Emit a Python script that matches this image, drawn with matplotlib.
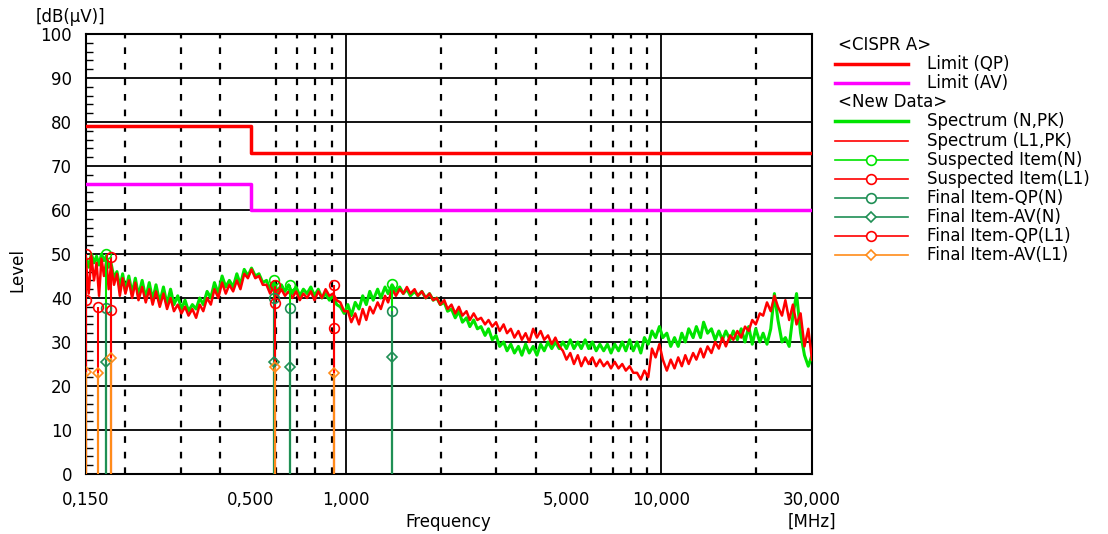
import matplotlib
matplotlib.use("Agg")
import matplotlib.pyplot as plt
from matplotlib.ticker import MultipleLocator, NullLocator

# frequency points of the scan [MHz]
freq = [
    0.150, 0.153, 0.156, 0.159, 0.162, 0.165, 0.168, 0.171, 0.174, 0.177,
    0.180, 0.184, 0.188, 0.192, 0.196, 0.200, 0.205, 0.210, 0.215, 0.220,
    0.226, 0.232, 0.238, 0.244, 0.250, 0.257, 0.264, 0.271, 0.278, 0.285,
    0.293, 0.301, 0.309, 0.317, 0.326, 0.335, 0.344, 0.353, 0.363, 0.373,
    0.383, 0.394, 0.405, 0.416, 0.427, 0.439, 0.451, 0.463, 0.476, 0.489,
    0.502, 0.516, 0.530, 0.545, 0.560, 0.575, 0.591, 0.607, 0.624, 0.641,
    0.658, 0.676, 0.695, 0.714, 0.733, 0.753, 0.774, 0.795, 0.817, 0.839,
    0.862, 0.886, 0.910, 0.935, 0.960, 0.987, 1.014, 1.04, 1.07, 1.10,
    1.13, 1.16, 1.19, 1.22, 1.26, 1.29, 1.33, 1.36, 1.40, 1.44,
    1.48, 1.52, 1.56, 1.60, 1.65, 1.69, 1.74, 1.79, 1.84, 1.89,
    1.94, 1.99, 2.05, 2.10, 2.16, 2.22, 2.28, 2.34, 2.41, 2.47,
    2.54, 2.61, 2.68, 2.76, 2.83, 2.91, 2.99, 3.07, 3.16, 3.24,
    3.33, 3.42, 3.52, 3.61, 3.71, 3.81, 3.92, 4.03, 4.14, 4.25,
    4.37, 4.49, 4.61, 4.74, 4.87, 5.00, 5.14, 5.28, 5.43, 5.57,
    5.73, 5.88, 6.04, 6.21, 6.38, 6.56, 6.74, 6.92, 7.11, 7.31,
    7.51, 7.71, 7.93, 8.14, 8.37, 8.60, 8.83, 9.08, 9.33, 9.58,
    9.85, 10.1, 10.4, 10.7, 11.0, 11.3, 11.6, 11.9, 12.2, 12.6,
    12.9, 13.3, 13.6, 14.0, 14.4, 14.8, 15.2, 15.6, 16.0, 16.5,
    16.9, 17.4, 17.9, 18.4, 18.9, 19.4, 19.9, 20.5, 21.0, 21.6,
    22.2, 22.8, 23.4, 24.1, 24.7, 25.4, 26.1, 26.8, 27.6, 28.4,
    29.2, 30.0,
]

# Spectrum (N, PK) [dBuV]
spec_n = [
    49, 47, 50, 48, 49.5, 47.5, 50, 48.5, 49.5, 47,
    48, 44.5, 46, 42.5, 45.5, 41.5, 45, 41, 44.5, 40.5,
    44, 40, 43.5, 39.5, 43, 39, 42.5, 38.5, 42, 38.5,
    40.5, 37.5, 39.5, 37, 38.5, 37.5, 40, 38.5, 41.5, 40,
    43.5, 41, 45, 42.5, 44, 42.5, 45.5, 43, 46.5, 45,
    46.8, 45, 45.5, 43.5, 44, 42, 43.5, 41.5, 43, 41.5,
    43, 41, 42.5, 40.5, 42, 41, 42.5, 40.5, 42, 40,
    41, 39.5, 40.5, 38.5, 38, 36.5, 38.5, 36, 39, 37.5,
    40.5, 38.5, 41.5, 39.5, 42, 40, 42.5, 41, 43, 41.5,
    42.5, 41, 42, 40.5, 41.5, 40.5, 41.5, 40, 41, 39.5,
    40, 38.5, 39, 37, 37.5, 35.5, 37, 34.5, 35.5, 33.5,
    35, 33, 33.5, 31.5, 33, 30.5, 31.5, 29, 30, 28,
    29.5, 27.5, 29, 27, 29.5, 27.5, 29, 27, 29.5, 28,
    30, 28.5, 30, 28.5, 30, 28.5, 30.5, 28.5, 30, 28.5,
    30.5, 28.5, 30, 28, 29.5, 28, 29.5, 27.5, 29.5, 28,
    30, 28, 30.5, 28, 30, 27.5, 31, 29.5, 32.5, 31,
    33.5, 31, 32, 29, 31, 29, 32, 30, 33, 31,
    33.5, 31, 34.5, 32, 33, 30.5, 32.5, 30.5, 32.5, 30.5,
    32.5, 30.5, 33, 30, 33.5, 29.5, 33, 30, 32, 29.5,
    33, 41, 35, 30, 31, 29, 36, 41, 32, 27,
    24.5, 27,
]

# Spectrum (L1, PK) [dBuV]
spec_l1 = [
    48, 41, 49.5, 44, 48, 40.5, 49, 45, 48.5, 42,
    47.5, 43, 45.5, 40.5, 44.5, 41, 44, 40, 43.5, 39.5,
    42.5, 39, 42, 38.5, 41.5, 38, 41, 37.5, 40, 37,
    38.5, 36.5, 38, 36, 37.5, 35.5, 38.5, 37, 40, 38.5,
    42, 40, 43.5, 41, 43, 41.5, 44, 42, 45.5, 44.5,
    46.5, 44.5, 45, 43, 43, 41, 42.5, 40.5, 42, 40.5,
    41.5, 40, 41.5, 39.5, 41, 40, 41.5, 39.5, 41.5, 40,
    42, 40.5, 41, 39.5, 39, 37, 37, 34.5, 36.5, 34,
    37.5, 35, 38, 36.5, 39, 37.5, 40.5, 39, 42, 40.5,
    42, 41, 42.5, 41, 42, 40.5, 41.5, 40, 41, 39.5,
    40, 38.5, 39.5, 37.5, 38.5, 36.5, 38, 36, 37, 35,
    36.5, 35, 35.5, 34, 35, 33.5, 34.5, 32.5, 34, 32,
    33, 31, 32.5, 30.5, 32, 30, 33, 31, 32.5, 30.5,
    31.5, 29.5, 31, 29, 28, 26, 27.5, 25, 27, 24.5,
    26.5, 25, 26.5, 24.5, 26, 24.5, 25.5, 24, 25.5, 24,
    25, 23.5, 24.5, 23, 23, 21.5, 23.5, 22, 28.5, 26.5,
    29.5, 26, 23.5, 26, 24, 26.5, 24.5, 27, 25, 27.5,
    26, 28.5, 26.5, 29, 27.5, 30, 28.5, 31, 29, 31.5,
    30.5, 32.5, 31, 33.5, 32.5, 35, 34, 36.5, 36, 39,
    37, 40.5, 38, 36, 39.5, 35, 38.5, 34, 36.5, 29,
    33, 26,
]

# CISPR A limits
limit_f = [0.15, 0.5, 0.5, 30]
limit_qp = [79, 79, 73, 73]
limit_av = [66, 66, 60, 60]

# suspected items
susp_n_f = [0.173, 0.590, 0.667, 1.40]
susp_n = [50.0, 44.0, 43.0, 43.2]
susp_l1_f = [0.150, 0.180, 0.596, 0.917]
susp_l1 = [50.0, 49.3, 43.0, 43.0]

# final measurements
final_n_f = [0.173, 0.590, 0.667, 1.40]
final_qp_n = [37.7, 40.0, 37.8, 37.1]
final_av_n = [25.5, 25.5, 24.4, 26.7]
final_l1_f = [0.150, 0.164, 0.180, 0.596, 0.917]
final_qp_l1 = [39.5, 37.9, 37.3, 38.8, 33.1]
final_av_l1 = [23.2, 23.0, 26.4, 24.4, 23.0]

tick_f = [0.15, 0.5, 1, 5, 10, 30]
tick_labels = ["0,150", "0,500", "1,000", "5,000", "10,000", "30,000"]
dash_f = [0.2, 0.3, 0.4, 0.6, 0.7, 0.8, 0.9, 2, 3, 4, 6, 7, 8, 9, 20]
solid_f = [1, 10]

GREEN = "#00e400"
RED = "#ff0000"
MAGENTA = "#ff00ff"
DKGREEN = "#1f8f55"
ORANGE = "#ff8c1a"

plt.rcParams["font.family"] = ["DejaVu Sans"]
W, H = 1108, 534
fig = plt.figure(figsize=(W / 100, H / 100), dpi=100)
ax = fig.add_axes([86 / W, 1 - 474 / H, 726 / W, 440 / H])

ax.set_xscale("log")
ax.set_xlim(0.15, 30)
ax.set_ylim(0, 100)

# grid
for y in range(10, 100, 10):
    ax.axhline(y, color="black", lw=1.3, zorder=1)
for f in dash_f:
    ax.axvline(f, color="black", lw=1.6, ls=(0, (3, 4)), zorder=1)
for f in solid_f:
    ax.axvline(f, color="black", lw=1.3, zorder=1)

# limits
ax.plot(limit_f, limit_qp, color=RED, lw=2.5, zorder=3)
ax.plot(limit_f, limit_av, color=MAGENTA, lw=2.5, zorder=3)

# spectra
ax.plot(freq, spec_n, color=GREEN, lw=2.2, zorder=3)
ax.plot(freq, spec_l1, color=RED, lw=1.8, zorder=3)

# stems
ax.vlines(susp_n_f, 0, susp_n, colors=GREEN, lw=1.5, zorder=4)
ax.vlines(susp_l1_f, 0, susp_l1, colors=RED, lw=1.5, zorder=4)
ax.vlines(final_n_f, 0, final_qp_n, colors=DKGREEN, lw=1.5, zorder=4)
ax.vlines(final_l1_f, 0, final_qp_l1, colors=RED, lw=1.5, zorder=4)
ax.vlines(final_n_f, 0, final_av_n, colors=DKGREEN, lw=1.5, zorder=4)
ax.vlines(final_l1_f, 0, final_av_l1, colors=ORANGE, lw=1.5, zorder=4)

# markers
mk = dict(ls="none", mfc="none", mew=1.2, zorder=5)
ax.plot(susp_n_f, susp_n, marker="o", ms=7, mec=GREEN, **mk)
ax.plot(susp_l1_f, susp_l1, marker="o", ms=7, mec=RED, **mk)
ax.plot(final_n_f, final_qp_n, marker="o", ms=7, mec=DKGREEN, **mk)
ax.plot(final_n_f, final_av_n, marker="D", ms=5.5, mec=DKGREEN, **mk)
ax.plot(final_l1_f, final_qp_l1, marker="o", ms=7, mec=RED, **mk)
ax.plot(final_l1_f, final_av_l1, marker="D", ms=5.5, mec=ORANGE, **mk)

# axes cosmetics
for s in ax.spines.values():
    s.set_linewidth(1.5)
ax.set_xticks(tick_f)
ax.set_xticklabels(tick_labels)
ax.xaxis.set_minor_locator(NullLocator())
ax.tick_params(axis="x", length=0, pad=12, labelsize=12)
ax.set_yticks(range(0, 101, 10))
ax.yaxis.set_minor_locator(MultipleLocator(2))
ax.tick_params(axis="y", which="major", length=0, pad=10, labelsize=12)
ax.tick_params(axis="y", which="minor", direction="in", length=5, width=1)

fig.text(448 / W, 1 - 522 / H, "Frequency", ha="center", va="center", fontsize=12)
fig.text(812 / W, 1 - 522 / H, "[MHz]", ha="center", va="center", fontsize=12)
fig.text(17 / W, 1 - 270 / H, "Level", ha="center", va="center", rotation=90, fontsize=12)
fig.text(36 / W, 1 - 17 / H, "[dB(\u03bcV)]", ha="left", va="center", fontsize=12)

# legend block drawn in pixel space
lax = fig.add_axes([0, 0, 1, 1], facecolor="none")
lax.set_xlim(0, W)
lax.set_ylim(H, 0)
lax.axis("off")

rows = [
    ("<CISPR A>", None, None, None),
    ("Limit (QP)", RED, 2.5, None),
    ("Limit (AV)", MAGENTA, 2.5, None),
    ("<New Data>", None, None, None),
    ("Spectrum (N,PK)", GREEN, 2.5, None),
    ("Spectrum (L1,PK)", RED, 1.2, None),
    ("Suspected Item(N)", GREEN, 1.2, "o"),
    ("Suspected Item(L1)", RED, 1.2, "o"),
    ("Final Item-QP(N)", DKGREEN, 1.2, "o"),
    ("Final Item-AV(N)", DKGREEN, 1.2, "D"),
    ("Final Item-QP(L1)", RED, 1.2, "o"),
    ("Final Item-AV(L1)", ORANGE, 1.2, "D"),
]
for i, (label, color, lw, marker) in enumerate(rows):
    yy = 45 + i * 19.1
    if color is None:
        lax.text(838, yy, label, ha="left", va="center", fontsize=12)
        continue
    lax.plot([835, 908], [yy, yy], color=color, lw=lw)
    if marker:
        lax.plot([871], [yy], marker=marker, ms=7 if marker == "o" else 5.5,
                 mfc="white", mec=color, mew=1.2)
    lax.text(927, yy, label, ha="left", va="center", fontsize=12)

fig.savefig("out.png", dpi=100)
